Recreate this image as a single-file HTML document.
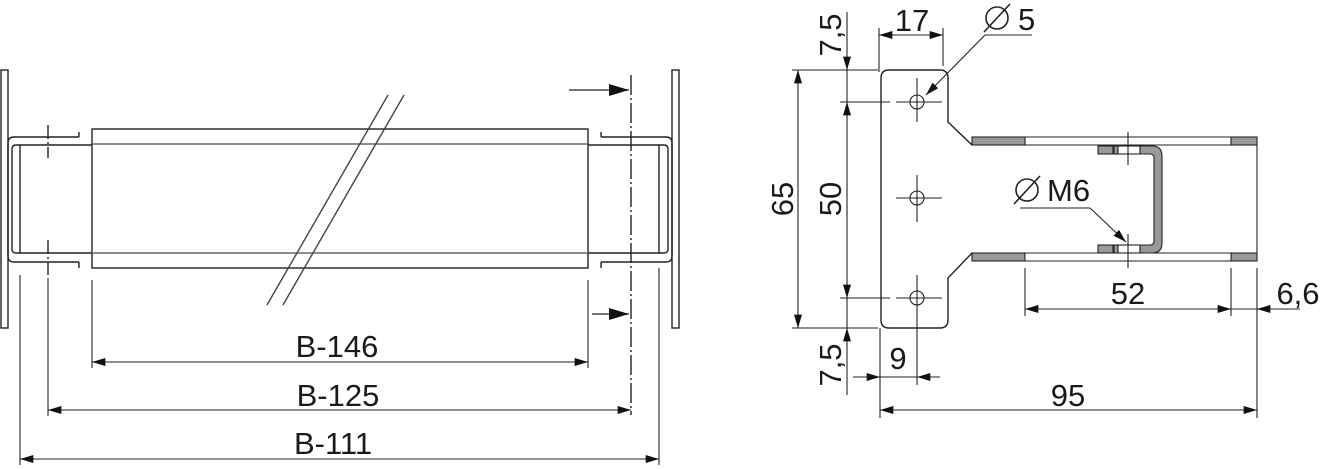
<!DOCTYPE html>
<html><head><meta charset="utf-8"><style>
html,body{margin:0;padding:0;background:#fff}
svg{display:block}
text{font-family:"Liberation Sans",Arial,sans-serif;font-size:31px;fill:#1a1a1a}
</style></head><body>
<svg width="1320" height="469" viewBox="0 0 1320 469" xmlns="http://www.w3.org/2000/svg">
<defs>
<marker id="a" viewBox="0 0 10 6" refX="10" refY="3" markerWidth="17" markerHeight="8" markerUnits="userSpaceOnUse" orient="auto-start-reverse"><path d="M0,0 L10,3 L0,6 Z" fill="#111"/></marker>
<marker id="b" viewBox="0 0 10 6" refX="10" refY="3" markerWidth="28" markerHeight="12" markerUnits="userSpaceOnUse" orient="auto"><path d="M0,0 L10,3 L0,6 Z" fill="#111"/></marker>
</defs>
<g fill="none" stroke="#222" stroke-width="1.4">
<rect x="1" y="70" width="7" height="258"/>
<rect x="672" y="70" width="7" height="258"/>
<path d="M79,137 H14 Q8,137 8,143 V256 Q8,262 14,262 H79"/>
<path d="M92,145 H16 Q12,145 12,149 V249 Q12,253 16,253 H92"/>
<line x1="20" y1="145" x2="20" y2="253"/>
<line x1="79" y1="132" x2="79" y2="137"/><line x1="79" y1="262" x2="79" y2="268"/>
<path d="M601,137 H666 Q672,137 672,143 V256 Q672,262 666,262 H601"/>
<path d="M588,145 H664 Q668,145 668,149 V249 Q668,253 664,253 H588"/>
<line x1="659" y1="145" x2="659" y2="253"/>
<line x1="601" y1="132" x2="601" y2="137"/><line x1="601" y1="262" x2="601" y2="268"/>
<rect x="92" y="129" width="496" height="139"/>
<line x1="92" y1="144" x2="588" y2="144" stroke="#666"/>
<line x1="92" y1="253" x2="588" y2="253" stroke="#666"/>
<line x1="48" y1="125" x2="48" y2="158" stroke-dasharray="14,3,2,3"/>
<line x1="48" y1="240" x2="48" y2="275" stroke-dasharray="14,3,2,3"/>
<line x1="631" y1="75" x2="631" y2="415" stroke-dasharray="20,3,2,3"/>
<line x1="267" y1="305" x2="388" y2="95" stroke="#444"/>
<line x1="283" y1="305" x2="404" y2="95" stroke="#444"/>
<line x1="569" y1="90" x2="629" y2="90" marker-end="url(#b)" stroke-width="1.2"/>
<line x1="592" y1="314" x2="629" y2="314" marker-end="url(#b)" stroke-width="1.2"/>
<line x1="20" y1="275" x2="20" y2="465" stroke-width="1.1"/>
<line x1="48" y1="278" x2="48" y2="416" stroke-width="1.1"/>
<line x1="92" y1="280" x2="92" y2="368" stroke-width="1.1"/>
<line x1="588" y1="280" x2="588" y2="368" stroke-width="1.1"/>
<line x1="659" y1="268" x2="659" y2="465" stroke-width="1.1"/>
<line x1="92" y1="362" x2="588" y2="362" marker-start="url(#a)" marker-end="url(#a)" stroke-width="1.1"/>
<line x1="48" y1="410" x2="631" y2="410" marker-start="url(#a)" marker-end="url(#a)" stroke-width="1.1"/>
<line x1="20" y1="459" x2="659" y2="459" marker-start="url(#a)" marker-end="url(#a)" stroke-width="1.1"/>

<path d="M889,70 H940 Q948,70 948,78 V122 L972,145"/>
<path d="M972,253 L948,278 V320 Q948,328 940,328 H889 Q881,328 881,320 V78 Q881,70 889,70"/>
<g stroke-width="1.1">
<circle cx="917" cy="102" r="7"/><circle cx="917" cy="198" r="7"/><circle cx="917" cy="298" r="7"/>
<line x1="917" y1="78" x2="917" y2="122"/><line x1="896" y1="102" x2="942" y2="102"/>
<line x1="917" y1="175" x2="917" y2="222"/><line x1="896" y1="198" x2="942" y2="198"/>
<line x1="917" y1="275" x2="917" y2="330"/><line x1="896" y1="298" x2="942" y2="298"/>
</g>
</g>
<g stroke="#222" stroke-width="1.1">
<rect x="972" y="137" width="53" height="8" fill="#999"/>
<rect x="1231" y="137" width="26" height="8" fill="#999"/>
<rect x="972" y="253" width="53" height="8" fill="#999"/>
<rect x="1231" y="253" width="26" height="8" fill="#999"/>
<line x1="1025" y1="137" x2="1231" y2="137"/><line x1="1025" y1="145" x2="1231" y2="145"/>
<line x1="1025" y1="253" x2="1231" y2="253"/><line x1="1025" y1="261" x2="1231" y2="261"/>
<line x1="1257" y1="145" x2="1257" y2="253"/>
<rect x="1098" y="146" width="15" height="8" fill="#999"/>
<rect x="1098" y="245" width="15" height="8" fill="#999"/>
<rect x="1114" y="146" width="4" height="8" fill="#999"/>
<rect x="1114" y="245" width="4" height="8" fill="#999"/>
<path d="M1140,146 H1152 Q1162,146 1162,156 V243 Q1162,253 1152,253 H1140 V245 H1150 Q1154,245 1154,241 V158 Q1154,154 1150,154 H1140 Z" fill="#999"/>
<rect x="1118" y="146" width="22" height="8" fill="none"/>
<rect x="1118" y="245" width="22" height="8" fill="none"/>
<line x1="1128" y1="132" x2="1128" y2="165"/>
<line x1="1128" y1="234" x2="1128" y2="268"/>
<line x1="1020" y1="208" x2="1090" y2="208"/>
<line x1="1090" y1="208" x2="1126" y2="242" marker-end="url(#a)"/>
<line x1="985" y1="35" x2="1032" y2="35"/>
<line x1="985" y1="35" x2="926" y2="95" marker-end="url(#a)"/>
<line x1="879" y1="28" x2="879" y2="72"/><line x1="943" y1="28" x2="943" y2="66"/>
<line x1="879" y1="35" x2="943" y2="35" marker-start="url(#a)" marker-end="url(#a)"/>
<line x1="792" y1="70" x2="878" y2="70"/><line x1="792" y1="328" x2="878" y2="328"/>
<line x1="840" y1="102" x2="890" y2="102"/><line x1="840" y1="298" x2="890" y2="298"/>
<line x1="798" y1="70" x2="798" y2="328" marker-start="url(#a)" marker-end="url(#a)"/>
<line x1="847" y1="12" x2="847" y2="70" marker-end="url(#a)"/>
<line x1="847" y1="102" x2="847" y2="298" marker-start="url(#a)" marker-end="url(#a)"/>
<line x1="847" y1="70" x2="847" y2="102"/>
<line x1="847" y1="298" x2="847" y2="328"/>
<line x1="847" y1="395" x2="847" y2="328" marker-end="url(#a)"/>
<line x1="880" y1="328" x2="880" y2="418"/><line x1="917" y1="330" x2="917" y2="385"/>
<line x1="853" y1="377" x2="880" y2="377" marker-end="url(#a)"/>
<line x1="940" y1="377" x2="917" y2="377" marker-end="url(#a)"/>
<line x1="880" y1="377" x2="917" y2="377"/>
<line x1="880" y1="410" x2="1257" y2="410" marker-start="url(#a)" marker-end="url(#a)"/>
<line x1="1025" y1="268" x2="1025" y2="316"/><line x1="1231" y1="268" x2="1231" y2="316"/>
<line x1="1257" y1="268" x2="1257" y2="418"/>
<line x1="1025" y1="309" x2="1231" y2="309" marker-start="url(#a)" marker-end="url(#a)"/>
<line x1="1231" y1="309" x2="1257" y2="309"/>
<line x1="1300" y1="309" x2="1257" y2="309" marker-end="url(#a)"/>
</g>
<text x="337" y="357" text-anchor="middle">B-146</text>
<text x="338" y="406" text-anchor="middle">B-125</text>
<text x="333" y="454" text-anchor="middle">B-111</text>
<text x="912" y="31" text-anchor="middle">17</text>
<text x="1018" y="30">5</text>
<g fill="none" stroke="#222" stroke-width="1.6"><circle cx="997" cy="18" r="11"/><line x1="984" y1="32" x2="1010" y2="4"/>
<circle cx="1027" cy="190" r="11"/><line x1="1014" y1="204" x2="1040" y2="176"/></g>
<text x="1047" y="201">M6</text>
<text x="898" y="369" text-anchor="middle">9</text>
<text x="1068" y="406" text-anchor="middle">95</text>
<text x="1128" y="304" text-anchor="middle">52</text>
<text x="1298" y="304" text-anchor="middle">6,6</text>
<text transform="translate(793,199) rotate(-90)" text-anchor="middle">65</text>
<text transform="translate(841,199) rotate(-90)" text-anchor="middle">50</text>
<text transform="translate(841,35) rotate(-90)" text-anchor="middle">7,5</text>
<text transform="translate(841,365) rotate(-90)" text-anchor="middle">7,5</text>
</svg>
</body></html>
